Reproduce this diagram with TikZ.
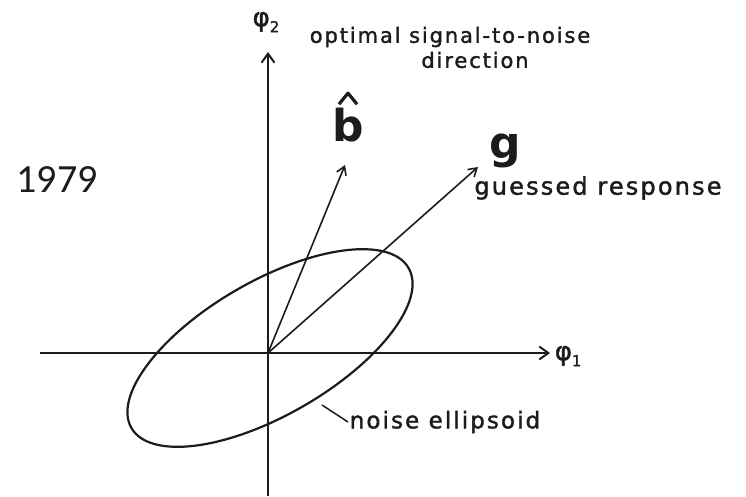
\documentclass[tikz,border=0pt]{standalone}
\usepackage{fontspec}
\usetikzlibrary{arrows.meta, calc}
\newfontfamily\lettering[LetterSpace=9, FakeBold=1.5]{DejaVu Sans}
\newfontfamily\solofont{DejaVu Sans}
\newfontfamily\yearfont{Carlito}
\definecolor{ink}{HTML}{1C1C1C}

\begin{document}
\begin{tikzpicture}[x=1pt, y=-1pt, >={Straight Barb[length=9pt, width=13pt]}, line width=1.6pt,
  axis/.style={ink, line width=2pt, ->},
  vec/.style={ink, line width=1.6pt, ->, >={Straight Barb[length=8pt, width=10pt]}},
  lettered/.style={text=ink, inner sep=1pt, font=\lettering\fontsize{#1}{#1}\selectfont},
  bigletter/.style={text=ink, inner sep=0pt, font=\solofont\bfseries\fontsize{#1}{#1}\selectfont}]

% Page
\fill[white] (0,0) rectangle (746,496);
\useasboundingbox (0,0) rectangle (746,496);

% Axes
\coordinate (O) at (268,353);
\coordinate (xstart) at (40,353);
\coordinate (xtip) at (550,353);
\coordinate (ystart) at (268,496);
\coordinate (ytip) at (268,52);
\draw[axis] (xstart) -- (xtip);
\draw[axis] (ystart) -- (ytip);
\node[lettered=26, anchor=west] (phi1) at (553,356) {φ\raisebox{-6pt}{\fontsize{15}{15}\selectfont 1}};
\node[lettered=26] (phi2) at (266,22) {φ\raisebox{-6pt}{\fontsize{15}{15}\selectfont 2}};

% Noise ellipse
\draw[ink, line width=2.2pt, rotate around={30:(270,348)}] (270,348) ellipse [x radius=160, y radius=67];

% Vectors b-hat and g
\coordinate (btip) at (345,165);
\coordinate (gtip) at (478,167);
\draw[vec] (O) -- (btip);
\draw[vec] (O) -- (gtip);

\node[bigletter=44] (bvec) at (348,125) {b};
\draw[ink, line width=3.2pt, line join=round]
  ($(bvec.north)+(-9,-3)$) -- ($(bvec.north)+(0,-14)$) -- ($(bvec.north)+(9,-3)$);
\node[bigletter=44] (gvec) at (505,151) {g};

% Labels
\node[lettered=21] (optimal) at (450,37) {optimal signal-to-noise};
\node[lettered=21] (direction) at (475,60) {direction};
\node[lettered=24] (guessed) at (598,188) {guessed response};
\node[text=ink, font=\yearfont\fontsize{40}{40}\selectfont] (year) at (57,180) {1979};

% Noise ellipsoid label
\coordinate (lead) at (322,405);
\node[lettered=23, anchor=west] (noise) at (348,422) {noise ellipsoid};
\draw[ink, line width=1.5pt] (lead) -- (noise.west);

\end{tikzpicture}
\end{document}
